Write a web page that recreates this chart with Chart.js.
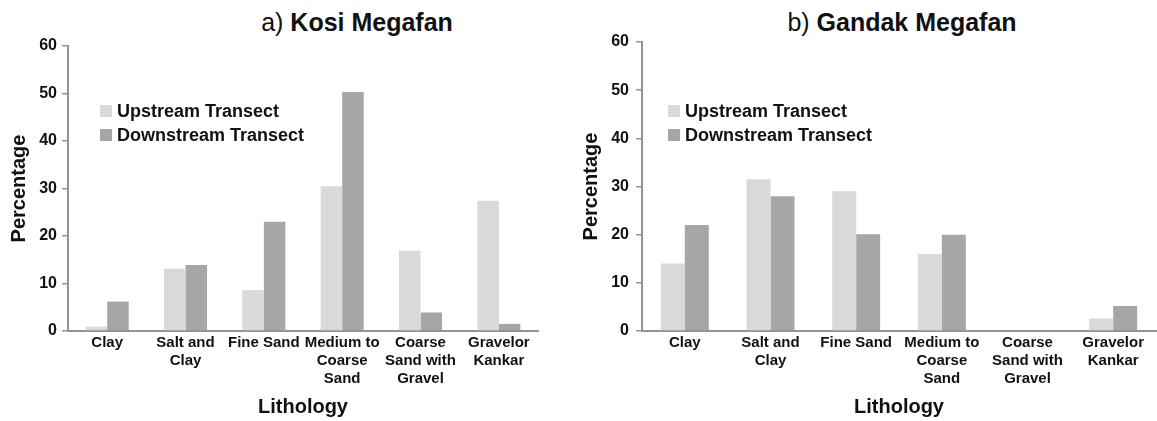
<!DOCTYPE html>
<html lang="en">
<head>
    <meta charset="UTF-8">
    <title>Kosi and Gandak Megafan lithology</title>
    <script src="https://cdn.jsdelivr.net/npm/chart.js"></script>
    <style>
        body { margin: 0; background: #fff; font-family: 'Liberation Sans', Arial, sans-serif; color: #111; }
        .wrap { position: relative; width: 1157px; height: 421px; overflow: hidden; }
        canvas { position: absolute; top: 0; }
        .title { position: absolute; top: 10px; font-size: 25px; line-height: 25px; white-space: nowrap; transform: translateX(-50%); }
        .title b { font-weight: bold; }
        .legend { position: absolute; font-size: 18px; font-weight: bold; line-height: 24px; }
        .legend div { display: flex; align-items: center; white-space: nowrap; }
        .legend span.box { display: inline-block; width: 12px; height: 12px; margin-right: 5px; }
    </style>
</head>
<body>
<div class="wrap">
    <div class="title" style="left: 357px;">a) <b>Kosi Megafan</b></div>
    <div class="title" style="left: 902px;">b) <b>Gandak Megafan</b></div>

    <canvas id="kosiChart" width="578" height="421" style="left: 0;"></canvas>
    <canvas id="gandakChart" width="579" height="421" style="left: 578px;"></canvas>

    <div class="legend" id="kosiLegend" style="left: 100px; top: 99px;"></div>
    <div class="legend" id="gandakLegend" style="left: 668px; top: 99px;"></div>
</div>

<script>
    // categories (multi-line labels as arrays)
    var categories = ['Clay', ['Salt and', 'Clay'], 'Fine Sand', ['Medium to', 'Coarse', 'Sand'], ['Coarse', 'Sand with', 'Gravel'], ['Gravelor', 'Kankar']];
    var seriesNames = ['Upstream Transect', 'Downstream Transect'];
    var seriesColors = ['#d9d9d9', '#a6a6a6'];

    // a) Kosi Megafan
    var kosiUp = [0.9, 13.1, 8.6, 30.5, 16.9, 27.4];
    var kosiDown = [6.2, 13.9, 23.0, 50.3, 3.9, 1.5];

    // b) Gandak Megafan
    var gandakUp = [14.0, 31.5, 29.0, 16.0, 0, 2.6];
    var gandakDown = [22.0, 28.0, 20.1, 20.0, 0, 5.2];

    var yTicks = [0, 10, 20, 30, 40, 50, 60];

    Chart.defaults.font.family = "'Liberation Sans', Arial, sans-serif";
    Chart.defaults.color = '#111';

    var axisGrey = '#939393';

    function makeChart(id, up, down, s) {
        var ctx = document.getElementById(id).getContext('2d');
        return new Chart(ctx, {
            type: 'bar',
            data: {
                labels: categories,
                datasets: [
                    { label: seriesNames[0], data: up, backgroundColor: seriesColors[0] },
                    { label: seriesNames[1], data: down, backgroundColor: seriesColors[1] }
                ]
            },
            options: {
                responsive: false,
                animation: false,
                devicePixelRatio: 1,
                categoryPercentage: s.catPct,
                barPercentage: 1.0,
                layout: { padding: { top: s.top, right: s.right, left: 0, bottom: 0 } },
                plugins: {
                    legend: { display: false },
                    tooltip: { enabled: false }
                },
                scales: {
                    x: {
                        grid: { display: false, drawTicks: false },
                        border: { display: true, color: axisGrey, width: 2 },
                        ticks: {
                            autoSkip: false, maxRotation: 0, padding: 3,
                            font: { size: 15, weight: 'bold', lineHeight: 1.2 }
                        },
                        title: {
                            display: true, text: 'Lithology',
                            font: { size: 20, weight: 'bold' },
                            padding: { top: 0, bottom: 2 }
                        },
                        afterFit: function(scale) { scale.height = 90; }
                    },
                    y: {
                        min: 0, max: 60,
                        afterBuildTicks: function(scale) {
                            scale.ticks = yTicks.map(function(v) { return { value: v }; });
                        },
                        grid: { drawOnChartArea: false, drawTicks: true, tickLength: 6, color: axisGrey, lineWidth: 1.5 },
                        border: { display: true, color: axisGrey, width: 2 },
                        ticks: { padding: s.tickPad, font: { size: 16, weight: 'bold' } },
                        title: {
                            display: true, text: 'Percentage',
                            font: { size: 20, weight: 'bold' },
                            padding: { top: s.titlePad, bottom: 0 }
                        },
                        afterFit: function(scale) { scale.width = s.yWidth; }
                    }
                }
            }
        });
    }

    function makeLegend(id) {
        var el = document.getElementById(id);
        seriesNames.forEach(function(name, i) {
            var row = document.createElement('div');
            row.innerHTML = '<span class="box" style="background:' + seriesColors[i] + '"></span>' + name;
            el.appendChild(row);
        });
    }

    var kosiChart = makeChart('kosiChart', kosiUp, kosiDown, { top: 46, right: 40, yWidth: 68, tickPad: 5, titlePad: 7, catPct: 0.55 });
    var gandakChart = makeChart('gandakChart', gandakUp, gandakDown, { top: 42, right: 1, yWidth: 64, tickPad: 7, titlePad: 1, catPct: 0.56 });

    makeLegend('kosiLegend');
    makeLegend('gandakLegend');
</script>
</body>
</html>
